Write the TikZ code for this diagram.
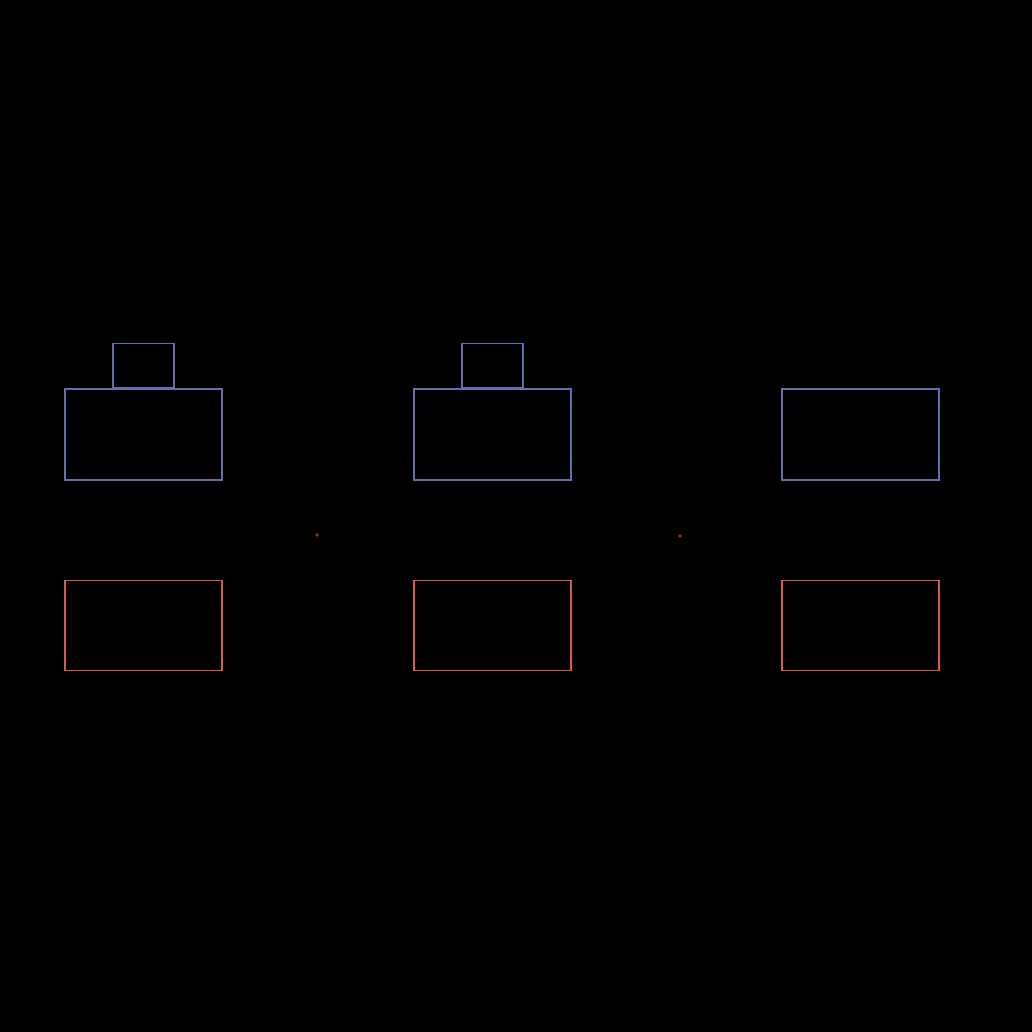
\documentclass[tikz,border=0pt]{standalone}
\usepackage{tikz}
\usetikzlibrary{positioning}

\definecolor{blueline}{RGB}{98,112,176}
\definecolor{redline}{RGB}{214,92,70}

\tikzset{
  bigbox/.style={draw,inner sep=0pt,minimum width=1.57cm,minimum height=0.91cm,line width=0.3pt},
  topbox/.style={draw=blueline,inner sep=0pt,minimum width=0.61cm,minimum height=0.44cm,line width=0.3pt},
}

\begin{document}
\begin{tikzpicture}
    \useasboundingbox (0,0) rectangle (10.32,10.32);
    \fill[black] (0,0) rectangle (10.32,10.32);

    \node [bigbox,draw=blueline] (P1) at (1.435,5.975) {} ;
    \node [bigbox,draw=blueline] (P2) at (4.925,5.975) {} ;
    \node [bigbox,draw=blueline] (P3) at (8.605,5.975) {} ;
    \node [topbox,above=0pt of P1] (T1) {} ;
    \node [topbox,above=0pt of P2] (T2) {} ;
    \node [bigbox,draw=redline,minimum height=0.9cm,below=0.99cm of P1] (Q1) {} ;
    \node [bigbox,draw=redline,minimum height=0.9cm,below=0.99cm of P2] (Q2) {} ;
    \node [bigbox,draw=redline,minimum height=0.9cm,below=0.99cm of P3] (Q3) {} ;

    \coordinate (D1) at (3.17,4.97);
    \coordinate (D2) at (6.80,4.96);
    \fill[redline!60!black] (D1) circle (0.5pt);
    \fill[redline!60!black] (D2) circle (0.5pt);
\end{tikzpicture}
\end{document}
